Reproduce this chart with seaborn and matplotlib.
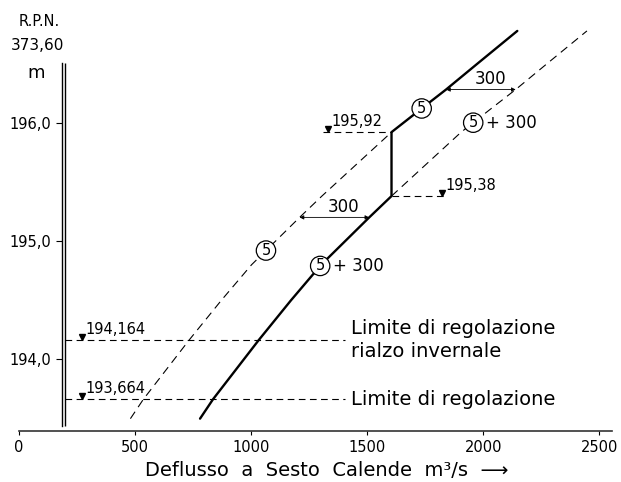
import numpy as np
import pandas as pd
import matplotlib
matplotlib.use("Agg")
import matplotlib.pyplot as plt
import seaborn as sns
from matplotlib import font_manager

# ---------------- data ----------------
LEVELS = [193.50, 193.664, 194.164, 194.50, 194.80, 195.20, 195.38, 195.92, 196.12, 196.28, 196.50, 196.775]
FLOW_5 = [480, 536, 733, 872, 1002, 1209, 1305, 1605, 1735, 1840, 1976, 2147]
OFFSET = 300
JUMP_LOW = 195.38
JUMP_HIGH = 195.92
JUMP_LABELS = ["195,38", "195,92"]
REG_LEVELS = [194.164, 193.664]
REG_LABELS = ["194,164", "193,664"]
REG_TEXTS = ["Limite di regolazione\nrialzo invernale", "Limite di regolazione"]
X_TICKS = [0, 500, 1000, 1500, 2000, 2500]
Y_TICKS = [194.0, 195.0, 196.0]
Y_TICK_LABELS = ["194,0", "195,0", "196,0"]
ARROW_LEVELS = [195.20, 196.28]

# ---------------- style ----------------
sns.set_theme(style="white")
names = {f.name for f in font_manager.fontManager.ttflist}
FONT = next((n for n in ["Liberation Sans Narrow", "DejaVu Sans"] if n in names), "DejaVu Sans")
plt.rcParams["font.family"] = [FONT, "DejaVu Sans"]
plt.rcParams["text.color"] = "black"
plt.rcParams["axes.labelcolor"] = "black"
plt.rcParams["xtick.color"] = "black"
plt.rcParams["ytick.color"] = "black"

lv = np.array(LEVELS)
q5 = np.array(FLOW_5, dtype=float)

solid = pd.DataFrame({
    "flow": np.concatenate([q5[lv <= JUMP_LOW] + OFFSET, q5[lv >= JUMP_HIGH]]),
    "level": np.concatenate([lv[lv <= JUMP_LOW], lv[lv >= JUMP_HIGH]]),
})
dash_low = pd.DataFrame({"flow": q5[lv <= JUMP_HIGH], "level": lv[lv <= JUMP_HIGH]})
dash_high = pd.DataFrame({"flow": q5[lv >= JUMP_LOW] + OFFSET, "level": lv[lv >= JUMP_LOW]})

W, H = 621, 482
fig = plt.figure(figsize=(W / 100, H / 100), dpi=100)
fig.patch.set_facecolor("white")
ax_l, ax_r, ax_t, ax_b = 19, 612, 25.6, 430.5
ax = fig.add_axes([ax_l / W, 1 - ax_b / H, (ax_r - ax_l) / W, (ax_b - ax_t) / H])
ax.set_facecolor("white")

dash = (0, (7.5, 5))
sns.lineplot(data=dash_low, x="flow", y="level", sort=False, estimator=None,
             color="black", lw=0.8, linestyle=dash, ax=ax)
sns.lineplot(data=dash_high, x="flow", y="level", sort=False, estimator=None,
             color="black", lw=0.8, linestyle=dash, ax=ax)
sns.lineplot(data=solid, x="flow", y="level", sort=False, estimator=None,
             color="black", lw=1.7, ax=ax)

ax.set_xlim(0, 2555)
ax.set_ylim(193.40, 196.82)

# spines / axes
for s in ["top", "right"]:
    ax.spines[s].set_visible(False)
ax.spines["bottom"].set_linewidth(1.2)
ax.spines["bottom"].set_color("#333333")
ax.spines["left"].set_position(("data", 187))
ax.spines["left"].set_bounds(193.44, 196.50)
ax.spines["left"].set_linewidth(1.0)
ax.spines["left"].set_color("black")
ax.vlines(200, 193.44, 196.50, color="black", lw=1.0)

ax.set_xticks(X_TICKS)
ax.set_xticklabels([str(v) for v in X_TICKS])
ax.set_yticks(Y_TICKS)
ax.set_yticklabels(Y_TICK_LABELS)
ax.tick_params(axis="x", bottom=True, direction="out", length=3, width=0.8, pad=4,
               labelsize=10.5, colors="black")
ax.tick_params(axis="y", left=True, direction="out", length=4, width=0.8, pad=4,
               labelsize=10.5, colors="black")
ax.set_xlabel("Deflusso  a  Sesto  Calende  m³/s  ⟶", fontsize=14, labelpad=5)
ax.xaxis.set_label_coords((327 - ax_l) / (ax_r - ax_l), -0.075)
ax.set_ylabel("")

# header of level axis
fig.text(39 / W, 1 - 21 / H, "R.P.N.", ha="center", va="center", fontsize=10.5)
fig.text(37 / W, 1 - 45 / H, "373,60", ha="center", va="center", fontsize=11)
fig.text(36 / W, 1 - 73 / H, "m", ha="center", va="center", fontsize=13)

ref_kw = dict(color="black", lw=0.8, linestyle=(0, (6, 4)))
tri_kw = dict(marker="v", ms=4, color="black", ls="none")
txt_kw = dict(fontsize=10.5, va="baseline", ha="left")

# jump levels
x_jump = np.interp(JUMP_HIGH, lv, q5)
ax.hlines(JUMP_HIGH, 1310, x_jump, **ref_kw)
ax.hlines(JUMP_LOW, x_jump, 1836, **ref_kw)
ax.plot([1332], [JUMP_HIGH + 0.025], **tri_kw)
ax.plot([1823], [JUMP_LOW + 0.025], **tri_kw)
ax.text(1345, JUMP_HIGH + 0.05, JUMP_LABELS[1], **txt_kw)
ax.text(1838, JUMP_LOW + 0.05, JUMP_LABELS[0], **txt_kw)

# regulation limits
for lvl, lab, txt in zip(REG_LEVELS, REG_LABELS, REG_TEXTS):
    ax.hlines(lvl, 200, 1405, **ref_kw)
    ax.plot([270], [lvl + 0.025], **tri_kw)
    ax.text(285, lvl + 0.05, lab, **txt_kw)
    ax.text(1431, lvl, txt, fontsize=14, ha="left", va="center", linespacing=1.25)

# offset arrows
for lvl in ARROW_LEVELS:
    a = np.interp(lvl, lv, q5)
    ax.annotate("", xy=(a + OFFSET, lvl), xytext=(a, lvl),
                arrowprops=dict(arrowstyle="<|-|>", lw=0.6, color="black",
                                mutation_scale=6, shrinkA=0, shrinkB=0))
    ax.text(a + OFFSET / 2 + 40, lvl + 0.015, str(OFFSET), fontsize=12,
            ha="center", va="bottom")

# circled curve labels
circ = dict(boxstyle="circle,pad=0.15", fc="white", ec="black", lw=0.9)
def circled(x, y, plus=False):
    ax.text(x, y, "5", fontsize=10.5, ha="center", va="center", bbox=circ, zorder=5)
    if plus:
        ax.text(x + 55, y, "+ 300", fontsize=12, ha="left", va="center", zorder=5)

circled(np.interp(196.12, lv, q5), 196.12)
circled(np.interp(196.0, lv, q5) + OFFSET, 196.0, plus=True)
circled(np.interp(194.92, lv, q5), 194.92)
circled(np.interp(194.79, lv, q5) + OFFSET, 194.79, plus=True)

fig.savefig("out.png", dpi=100, facecolor="white")
